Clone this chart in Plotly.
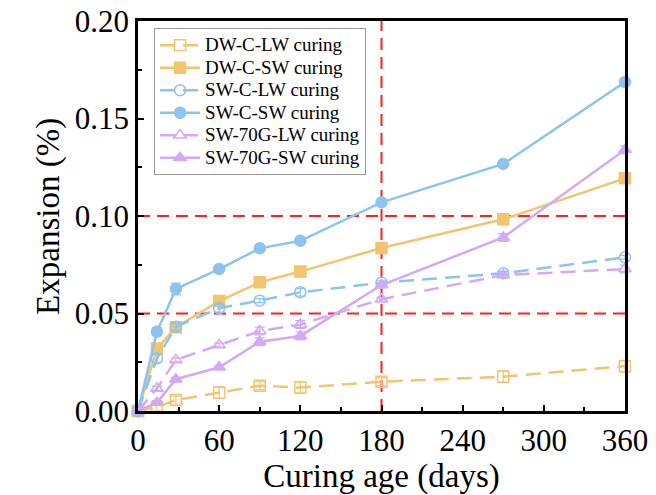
import plotly.graph_objects as go

days = [0, 14, 28, 60, 90, 120, 180, 270, 360]

dw_c_lw = [0.0, 0.002, 0.0056, 0.0094, 0.013, 0.012, 0.015, 0.0176, 0.023]
dw_c_sw = [0.0, 0.032, 0.043, 0.0564, 0.066, 0.0715, 0.0836, 0.0983, 0.1193]
sw_c_lw = [0.0, 0.027, 0.0432, 0.0527, 0.0566, 0.0609, 0.0658, 0.0706, 0.0788]
sw_c_sw = [0.0, 0.0407, 0.0626, 0.0728, 0.0834, 0.0873, 0.107, 0.1267, 0.1687]
sw70g_lw = [0.0, 0.0116, 0.0262, 0.0338, 0.041, 0.0444, 0.0573, 0.0697, 0.0728]
sw70g_sw = [0.0, 0.0043, 0.0163, 0.0224, 0.0355, 0.0385, 0.0646, 0.089, 0.134]

err_dw_c_lw = [0.0, 0.002, 0.002, 0.003, 0.002, 0.003, 0.002, 0.003, 0.003]
err_dw_c_sw = [0.0, 0.002, 0.002, 0.002, 0.001, 0.001, 0.001, 0.002, 0.001]
err_sw_c_lw = [0.0, 0.002, 0.002, 0.002, 0.001, 0.002, 0.001, 0.001, 0.001]
err_sw_c_sw = [0.0, 0.002, 0.003, 0.001, 0.001, 0.001, 0.001, 0.001, 0.001]
err_sw70g_lw = [0.0, 0.001, 0.001, 0.001, 0.002, 0.002, 0.001, 0.001, 0.002]
err_sw70g_sw = [0.0, 0.001, 0.001, 0.001, 0.002, 0.002, 0.001, 0.002, 0.002]

names = ["DW-C-LW curing", "DW-C-SW curing", "SW-C-LW curing",
         "SW-C-SW curing", "SW-70G-LW curing", "SW-70G-SW curing"]

x_title = "Curing age (days)"
y_title = "Expansion (%)"

ORANGE = "#F2C46D"
BLUE = "#8DC3F0"
PURPLE = "#D2A9F7"

series = [
    (names[0], dw_c_lw, err_dw_c_lw, ORANGE, "square-open", "15px,8px"),
    (names[1], dw_c_sw, err_dw_c_sw, ORANGE, "square", "solid"),
    (names[2], sw_c_lw, err_sw_c_lw, BLUE, "circle-open", "15px,8px"),
    (names[3], sw_c_sw, err_sw_c_sw, BLUE, "circle", "solid"),
    (names[4], sw70g_lw, err_sw70g_lw, PURPLE, "triangle-up-open", "15px,8px"),
    (names[5], sw70g_sw, err_sw70g_sw, PURPLE, "triangle-up", "solid"),
]

fig = go.Figure()
for name, ys, err, col, sym, dash in series:
    fig.add_trace(go.Scatter(
        x=days, y=ys, name='<span style="font-size:19px">' + name + '</span>',
        mode="lines+markers",
        line=dict(color=col, width=2.5, dash=dash),
        marker=dict(symbol=sym, size=11, color=col,
                    line=dict(color=col, width=1.5)),
        error_y=dict(type="data", array=err, color=col, thickness=1.2, width=5),
        cliponaxis=False,
    ))

red = dict(color="#FF2020", width=2, dash="12px,7px")
for yv in [0.05, 0.10]:
    fig.add_shape(type="line", xref="x", yref="y", x0=0, x1=360, y0=yv, y1=yv,
                  line=red, layer="below")
fig.add_shape(type="line", xref="x", yref="y", x0=180, x1=180, y0=0, y1=0.20,
              line=red, layer="below")

font_family = "Liberation Serif"
fig.add_annotation(text=y_title, xref="paper", yref="paper", x=-0.185, y=0.5,
                   xanchor="center", yanchor="middle", textangle=-90,
                   showarrow=False, font=dict(size=33, family=font_family))

fig.update_layout(
    width=656, height=495,
    margin=dict(l=138, r=31, t=21, b=84),
    paper_bgcolor="white", plot_bgcolor="white",
    font=dict(family=font_family, color="black"),
    showlegend=True,
    legend=dict(x=0.033, y=0.982, xanchor="left", yanchor="top",
                bgcolor="white", bordercolor="#999999", borderwidth=1,
                font=dict(size=15, family=font_family), tracegroupgap=0,
                itemwidth=40),
    xaxis=dict(
        range=[0, 360], tickvals=[0, 60, 120, 180, 240, 300, 360],
        ticks="inside", ticklen=6, tickwidth=2, tickcolor="black",
        minor=dict(tickvals=[30, 90, 150, 210, 270, 330], ticks="inside",
                   ticklen=4, tickwidth=2, tickcolor="black"),
        showline=True, linecolor="black", linewidth=2.5, mirror=True,
        showgrid=False, zeroline=False, automargin=False,
        tickfont=dict(size=31, family=font_family),
        title=dict(text=x_title, font=dict(size=33, family=font_family)),
    ),
    yaxis=dict(
        range=[0, 0.20], tickvals=[0, 0.05, 0.10, 0.15, 0.20], tickformat=".2f",
        ticks="inside", ticklen=6, tickwidth=2, tickcolor="black",
        minor=dict(tickvals=[0.025, 0.075, 0.125, 0.175], ticks="inside",
                   ticklen=4, tickwidth=2, tickcolor="black"),
        showline=True, linecolor="black", linewidth=2.5, mirror=True,
        showgrid=False, zeroline=False, automargin=False,
        tickfont=dict(size=31, family=font_family),
    ),
)

fig.write_html("out.html", config={"displayModeBar": False},
               post_script="document.body.style.margin='0';document.body.style.padding='0';")
